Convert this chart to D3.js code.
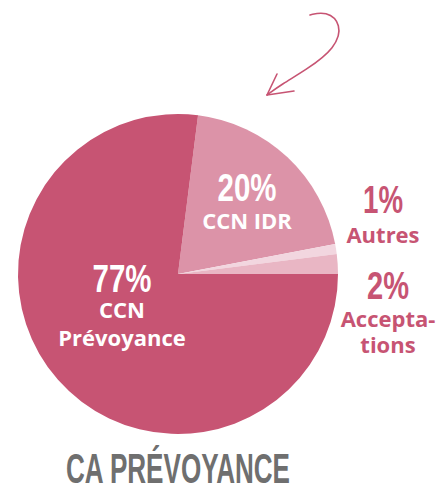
<!DOCTYPE html>
<html lang="fr">
<head>
  <meta charset="UTF-8">
  <title>CA Prévoyance</title>
  <style>
    body {
      margin: 0;
      padding: 0;
      background-color: #ffffff;
    }
    .pct {
      font-family: "Liberation Sans", "DejaVu Sans", sans-serif;
      font-weight: bold;
    }
    .lbl {
      font-family: "Open Sans", "DejaVu Sans", sans-serif;
      font-weight: bold;
    }
  </style>
</head>
<body>
<div id="chart"></div>
<script src="https://d3js.org/d3.v7.min.js"></script>
<script>
  // slice data, in drawing order (clockwise from just past 12 o'clock)
  const categories = ["CCN IDR", "Autres", "Acceptations", "CCN Prévoyance"];
  const values = [20, 1, 2, 77];
  const pctLabels = ["20%", "1%", "2%", "77%"];
  const nameLines = [["CCN IDR"], ["Autres"], ["Accepta-", "tions"], ["CCN", "Prévoyance"]];
  const colors = ["#dc93a8", "#f2d6df", "#e9b6c4", "#c75473"];

  const title = "CA PRÉVOYANCE";

  const width = 438;
  const height = 486;
  const cx = 178, cy = 274, radius = 160;

  // label anchor (center x, baseline of the % line) relative to pie center,
  // condensed width of the % text, and gaps to the name lines
  const labelPos = [
    { x: 69, y: -73, w: 59, gaps: [28], inside: true },
    { x: 205, y: -61, w: 40, gaps: [30], inside: false },
    { x: 210, y: 25, w: 42, gaps: [28, 54], inside: false },
    { x: -56, y: 18, w: 59, gaps: [26, 54], inside: true }
  ];

  const svg = d3.select("#chart").append("svg")
          .attr("width", width)
          .attr("height", height);

  const g = svg.append("g")
          .attr("transform", `translate(${cx},${cy})`);

  // the big slice starts at 3 o'clock, so the first slice starts past 12
  const start = (values[3] / 100 - 0.75) * 2 * Math.PI;
  const pie = d3.pie()
          .sort(null)
          .value(d => d)
          .startAngle(start)
          .endAngle(start + 2 * Math.PI);

  const arc = d3.arc().innerRadius(0).outerRadius(radius);

  const arcs = pie(values);

  g.selectAll("path.slice")
          .data(arcs)
          .enter()
          .append("path")
          .attr("class", "slice")
          .attr("d", arc)
          .attr("fill", (d, i) => colors[i]);

  // labels
  arcs.forEach((d, i) => {
    const p = labelPos[i];
    const fill = p.inside ? "#ffffff" : "#c75473";
    g.append("text")
            .attr("class", "pct")
            .attr("x", p.x)
            .attr("y", p.y)
            .attr("text-anchor", "middle")
            .attr("font-size", 38)
            .attr("textLength", p.w)
            .attr("lengthAdjust", "spacingAndGlyphs")
            .attr("fill", fill)
            .text(pctLabels[i]);
    nameLines[i].forEach((line, j) => {
      g.append("text")
              .attr("class", "lbl")
              .attr("x", p.x)
              .attr("y", p.y + p.gaps[j])
              .attr("text-anchor", "middle")
              .attr("font-size", 22)
              .attr("fill", fill)
              .text(line);
    });
  });

  // title
  svg.append("text")
          .attr("class", "pct")
          .attr("x", cx)
          .attr("y", 483)
          .attr("text-anchor", "middle")
          .attr("font-size", 43)
          .attr("textLength", 224)
          .attr("lengthAdjust", "spacingAndGlyphs")
          .attr("fill", "#6f6f6f")
          .text(title);

  // hand-drawn arrow
  const arrowLine = d3.line().curve(d3.curveBasis);
  svg.append("path")
          .attr("d", arrowLine([[310, 15], [326, 11], [342, 24], [336, 48], [306, 70], [282, 84], [267, 95]]))
          .attr("fill", "none")
          .attr("stroke", "#c75473")
          .attr("stroke-width", 1.6)
          .attr("stroke-linecap", "round");
  svg.append("path")
          .attr("d", d3.line()([[277, 74], [267, 95], [294, 91]]))
          .attr("fill", "none")
          .attr("stroke", "#c75473")
          .attr("stroke-width", 1.6)
          .attr("stroke-linecap", "round")
          .attr("stroke-linejoin", "round");
</script>
</body>
</html>
